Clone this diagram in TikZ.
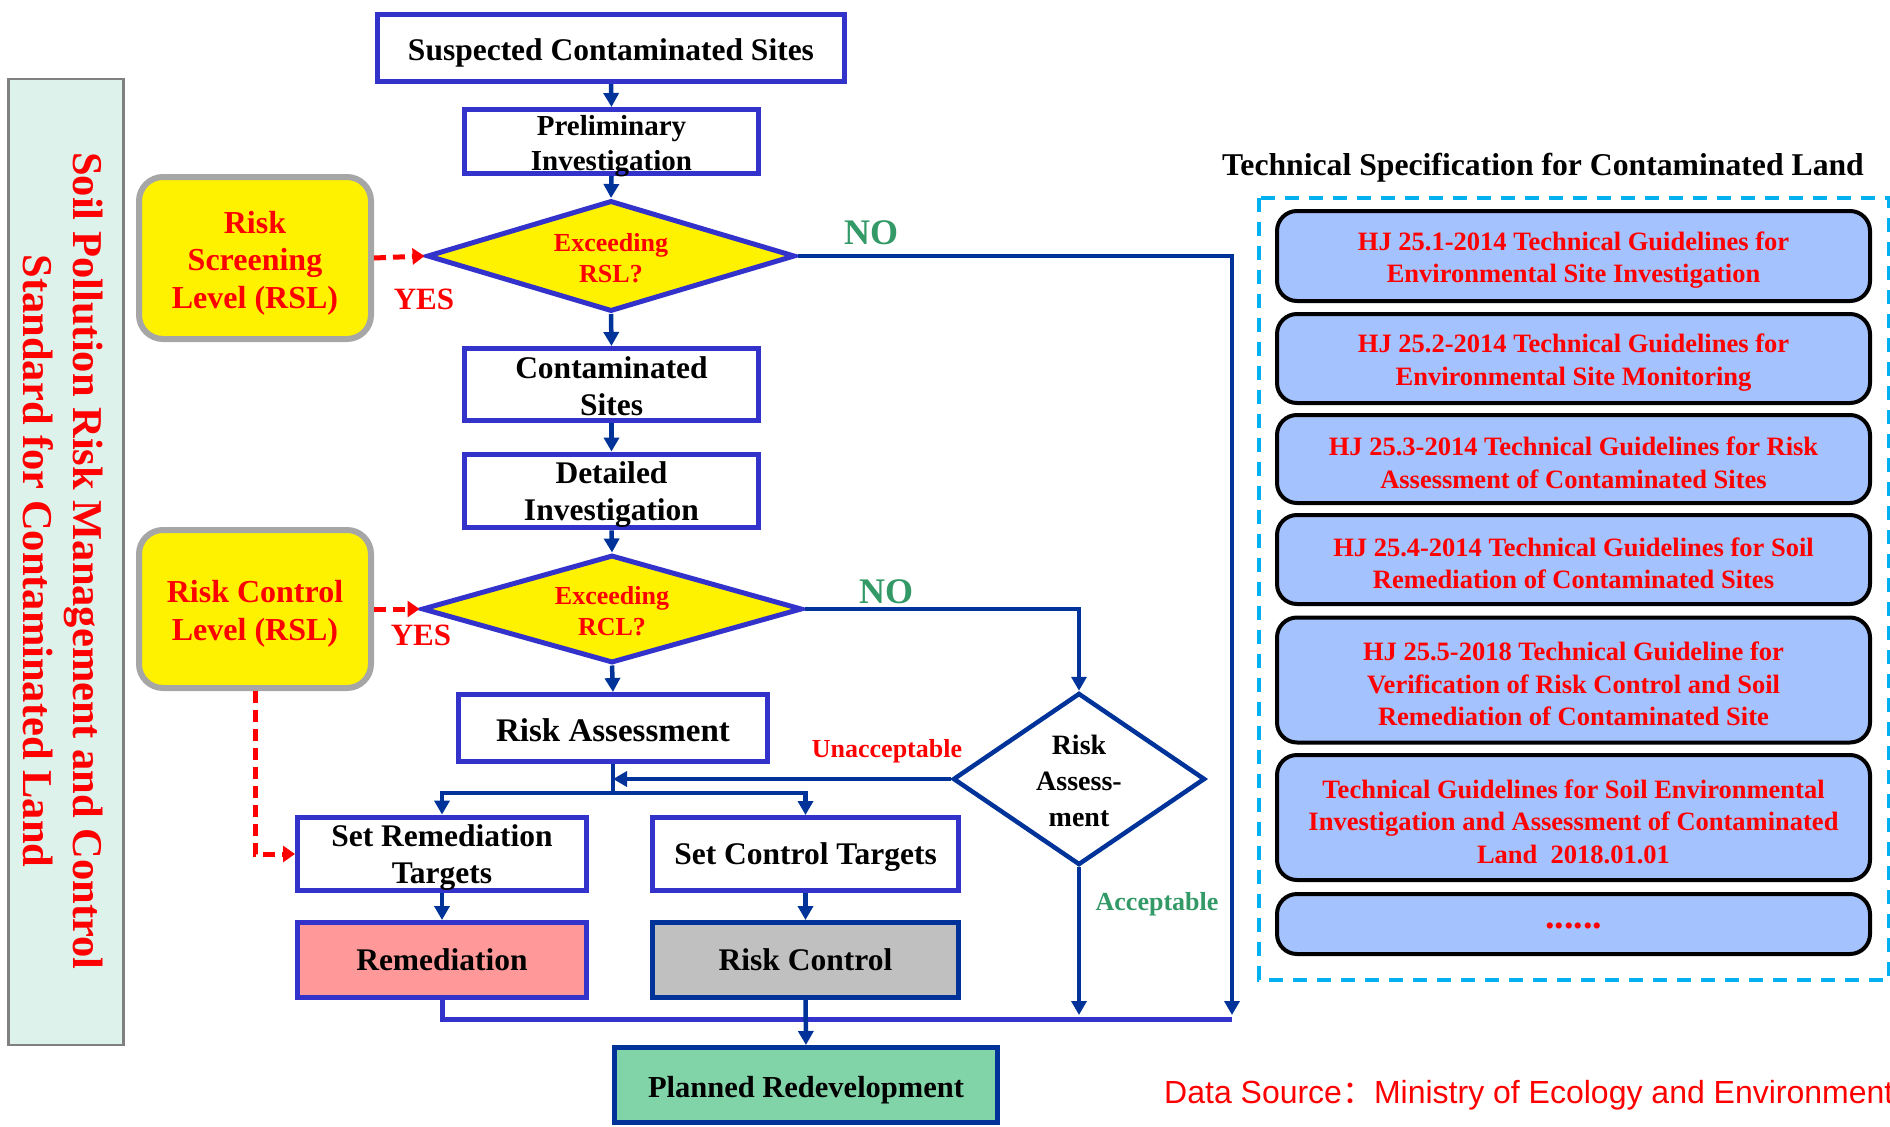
\documentclass[tikz,border=0pt]{standalone}
\usepackage{fontspec}
\setmainfont{Liberation Serif}
\newfontfamily\arialf{Liberation Sans}
\newfontfamily\cjk{Noto Sans CJK SC}
\usetikzlibrary{arrows.meta,shapes.geometric}

\definecolor{boxblue}{HTML}{3333CC}
\definecolor{navy}{HTML}{003399}
\definecolor{okgreen}{HTML}{339966}
\definecolor{specfill}{HTML}{A4C2FD}
\definecolor{planfill}{HTML}{80D4A8}
\definecolor{remfill}{HTML}{FF9999}
\definecolor{ctrlfill}{HTML}{C0C0C0}
\definecolor{bannerfill}{HTML}{DDF2EA}
\definecolor{bannerline}{HTML}{808080}
\definecolor{rslline}{HTML}{A6A6A6}
\definecolor{framecyan}{HTML}{00B0F0}

\newcommand\setfs[2]{\fontsize{#1}{#2}\selectfont}
% invisible strut that sets the text a little lower inside its box
\newcommand\topstrut[1]{\rule{0pt}{#1em}}

\begin{document}
\begin{tikzpicture}[x=1pt,y=-1pt,
  flow/.style={draw=boxblue, line width=5pt, fill=white, inner sep=0pt,
    align=center, font=\bfseries\setfs{31.5}{37}},
  decision/.style={diamond, draw=boxblue, line width=5pt, fill=yellow,
    inner sep=0pt, aspect=3.2, align=center, text=red,
    font=\bfseries\setfs{26}{31}},
  rslbox/.style={draw=rslline, line width=6pt, fill=yellow, rounded corners=24pt,
    inner sep=0pt, align=center, text=red, font=\bfseries\setfs{32}{37.5}},
  specbox/.style={draw=black, line width=4pt, fill=specfill, rounded corners=20pt,
    minimum width=593pt, inner sep=0pt, align=center, text=red,
    font=\bfseries\setfs{26.5}{32.5}},
  navyarrow/.style={draw=navy, line width=4.5pt, -{Triangle[width=15pt,length=14pt]}},
  navyline/.style={draw=navy, line width=4.5pt},
  reddash/.style={draw=red, line width=5pt, dash pattern=on 12pt off 7pt,
    -{Triangle[width=16pt,length=12pt]}},
  lbl/.style={inner sep=0pt, font=\bfseries\setfs{26}{30}}
]
\useasboundingbox (0,0) rectangle (1890,1127);

% left banner with the standard's title
\node[draw=bannerline, fill=bannerfill, line width=2.5pt, inner sep=0pt,
      minimum width=115pt, minimum height=966pt] (banner) at (66,562) {};
\node[rotate=-90, inner sep=0pt, text=red, align=center,
      font=\bfseries\setfs{42.5}{50}] (bannertxt) at (63,561)
  {Soil Pollution Risk Management and Control\\Standard for Contaminated Land};

% main flow
\node[flow, minimum width=467pt, minimum height=67pt] (susp) at (611,48)
  {\topstrut{1}Suspected Contaminated Sites};
\node[flow, minimum width=294pt, minimum height=64pt, text height=61pt, text depth=3pt,
      font=\bfseries\setfs{29}{35}] (prelim) at (611.5,141.5)
  {Preliminary\\Investigation};
\node[decision, minimum width=368pt, minimum height=111pt] (d1) at (611,256)
  {\topstrut{0.85}Exceeding\\RSL?};
\node[flow, minimum width=294pt, minimum height=72pt] (cont) at (611.5,384.5)
  {\topstrut{0.83}Contaminated\\Sites};
\node[flow, minimum width=294pt, minimum height=73pt] (detail) at (611.5,491)
  {\topstrut{0.95}Detailed\\Investigation};
\node[decision, minimum width=380pt, minimum height=108pt] (d2) at (612,609)
  {\topstrut{0.85}Exceeding\\RCL?};
\node[flow, minimum width=309pt, minimum height=67pt,
      font=\bfseries\setfs{33}{38}] (riskA) at (613,728)
  {\topstrut{0.82}Risk Assessment};
\node[flow, minimum width=289pt, minimum height=73pt] (setR) at (442,854)
  {\topstrut{0.95}Set Remediation\\Targets};
\node[flow, minimum width=306pt, minimum height=73pt] (setC) at (805.5,854)
  {\topstrut{0.9}Set Control Targets};
\node[flow, fill=remfill, minimum width=289pt, minimum height=75pt] (remed) at (442,960)
  {Remediation};
\node[flow, draw=navy, fill=ctrlfill, minimum width=306pt, minimum height=75pt] (rctrl) at (805.5,960)
  {Risk Control};
\node[flow, draw=navy, fill=planfill, minimum width=383pt, minimum height=75pt,
      font=\bfseries\setfs{30.5}{36}] (plan) at (806,1085)
  {\topstrut{1}Planned Redevelopment};
\node[diamond, draw=navy, line width=4.5pt, fill=white, inner sep=0pt, aspect=1.4,
      minimum width=252pt, minimum height=172pt, align=center,
      font=\bfseries\setfs{28}{36}] (riskD) at (1079,779)
  {\topstrut{0.85}Risk\\Assess-\\ment};

% screening and control levels
\node[rslbox, minimum width=232pt, minimum height=162pt] (rsl1) at (255,258)
  {\topstrut{1}Risk\\Screening\\Level (RSL)};
\node[rslbox, minimum width=232pt, minimum height=158pt] (rsl2) at (255,609)
  {\topstrut{1}Risk Control\\Level (RSL)};

% helper points of the connectors
\coordinate (branch) at (613,793);
\coordinate (noEnd) at (1232,1015);
\coordinate (collEnd) at (1232,1019);
\coordinate (accEnd) at (1079,1015);

% straight flow arrows
\draw[navyarrow] (susp.south) -- (prelim.north);
\draw[navyarrow] (prelim.south) -- (d1.north);
\draw[navyarrow] (d1.south) -- (cont.north);
\draw[navyarrow] (cont.south) -- (detail.north);
\draw[navyarrow] (detail.south) -- (d2.north);
\draw[navyarrow] (d2.south) -- (riskA.north);
\draw[navyline] (riskA.south) -- (branch);
\draw[navyarrow] (branch) -| (setR.north);
\draw[navyarrow] (branch) -| (setC.north);
\draw[navyarrow] (setR.south) -- (remed.north);
\draw[navyarrow] (setC.south) -- (rctrl.north);

% collecting line towards redevelopment
\draw[draw=boxblue, line width=5pt] (remed.south) |- (collEnd);
\draw[navyarrow] (rctrl.south) -- (plan.north);

% NO branches and the assessment outcomes
\draw[navyarrow] (d1.east) -| (noEnd);
\draw[navyarrow] (d2.east) -| (riskD.north);
\draw[navyarrow] (riskD.south) -- (accEnd);
\draw[navyarrow] (riskD.west) -- (riskD.west -| branch);

% YES links from the levels
\draw[reddash] (rsl1.east) -- (d1.west);
\draw[reddash] (rsl2.east) -- (d2.west);
\draw[reddash] (rsl2.south) |- (setR.west);

% connector labels
\node[lbl, text=okgreen, font=\bfseries\setfs{36}{40}] (no1) at (871,233) {NO};
\node[lbl, text=okgreen, font=\bfseries\setfs{36}{40}] (no2) at (886,592) {NO};
\node[lbl, text=red, font=\bfseries\setfs{31}{36}] (yes1) at (424,299) {YES};
\node[lbl, text=red, font=\bfseries\setfs{31}{36}] (yes2) at (421,635) {YES};
\node[lbl, text=red] (unacc) at (887,751) {Unacceptable};
\node[lbl, text=okgreen] (acc) at (1157,904) {Acceptable};

% technical specifications
\node[inner sep=0pt, font=\bfseries\setfs{31.7}{36}] (spectitle) at (1543,165)
  {\topstrut{0.9}Technical Specification for Contaminated Land};
\draw[framecyan, line width=4pt, dash pattern=on 14pt off 10pt] (1259,198) rectangle (1889,980);
\node[specbox, minimum height=90pt] (hj1) at (1573.5,256)
  {\topstrut{1}HJ 25.1-2014 Technical Guidelines for\\Environmental Site Investigation};
\node[specbox, minimum height=89pt] (hj2) at (1573.5,358.5)
  {\topstrut{1}HJ 25.2-2014 Technical Guidelines for\\Environmental Site Monitoring};
\node[specbox, minimum height=88pt] (hj3) at (1573.5,459)
  {\topstrut{1}HJ 25.3-2014 Technical Guidelines for Risk\\Assessment of Contaminated Sites};
\node[specbox, minimum height=89pt] (hj4) at (1573.5,559.5)
  {\topstrut{1}HJ 25.4-2014 Technical Guidelines for Soil\\Remediation of Contaminated Sites};
\node[specbox, minimum height=125pt] (hj5) at (1573.5,680)
  {\topstrut{1}HJ 25.5-2018 Technical Guideline for\\Verification of Risk Control and Soil\\Remediation of Contaminated Site};
\node[specbox, minimum height=125pt] (tg) at (1573.5,817.5)
  {\topstrut{1}Technical Guidelines for Soil Environmental\\Investigation and Assessment of Contaminated\\Land\ \ 2018.01.01};
\node[specbox, minimum height=60pt, font=\bfseries\setfs{38}{40}] (more) at (1573.5,924)
  {\raisebox{-4pt}[0pt][0pt]{......}};

% source note
\node[anchor=base west, inner sep=0pt, text=red, font=\arialf\setfs{32}{38}] (source) at (1164,1103)
  {Data Source{\cjk ：}Ministry of Ecology and Environment};
\end{tikzpicture}
\end{document}
